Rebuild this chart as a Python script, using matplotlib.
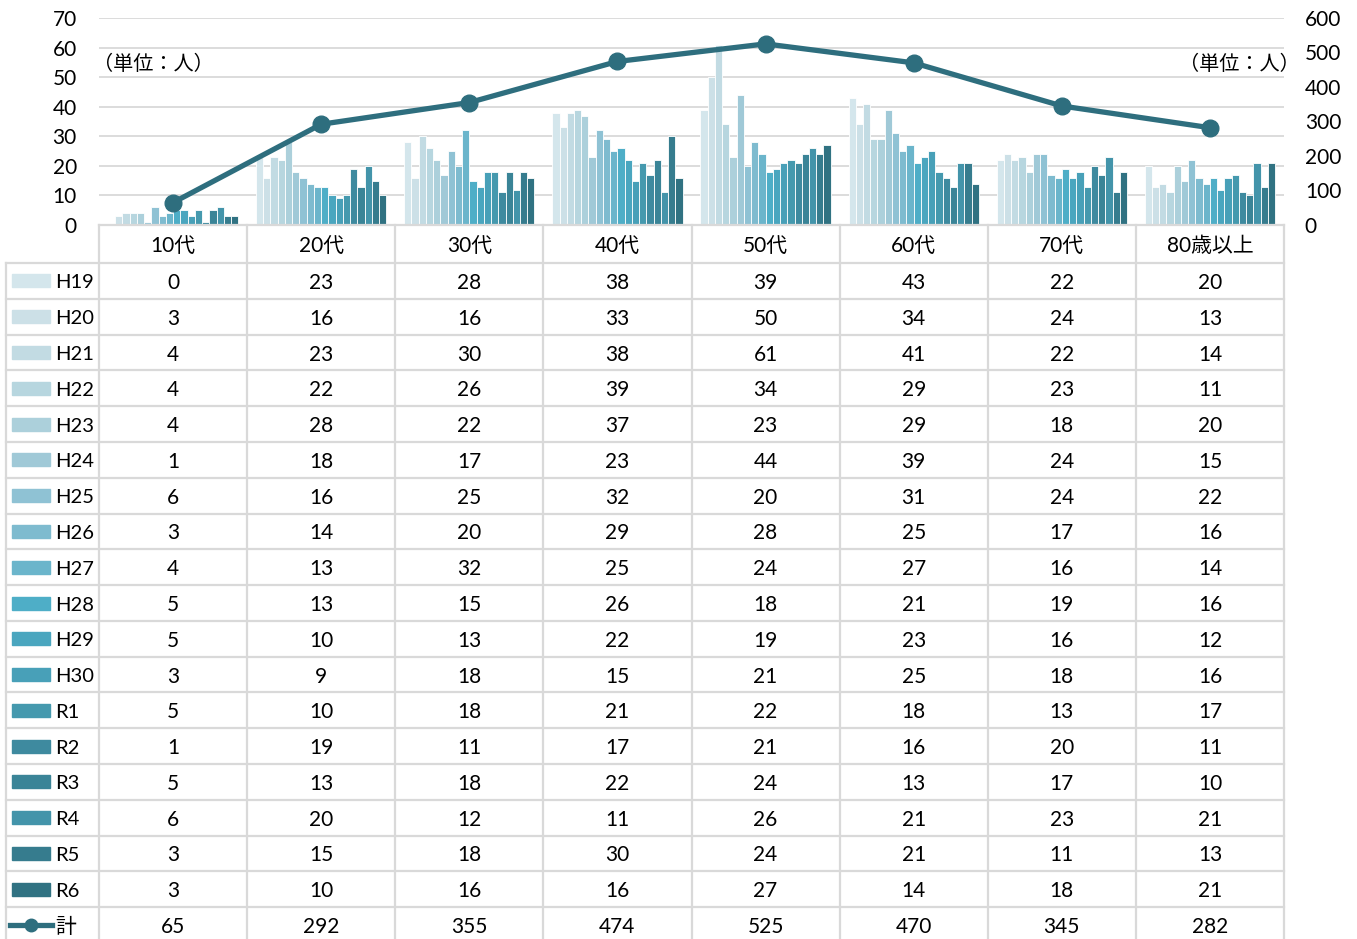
import matplotlib.pyplot as plt
import numpy as np
from matplotlib.patches import Rectangle

plt.rcParams['font.family'] = ['Lato', 'Noto Sans CJK JP', 'DejaVu Sans']

ages = ['10代', '20代', '30代', '40代', '50代', '60代', '70代', '80歳以上']
years = ['H19', 'H20', 'H21', 'H22', 'H23', 'H24', 'H25', 'H26', 'H27',
         'H28', 'H29', 'H30', 'R1', 'R2', 'R3', 'R4', 'R5', 'R6']
# one row per year, one column per age group
counts = [
    [0, 23, 28, 38, 39, 43, 22, 20],
    [3, 16, 16, 33, 50, 34, 24, 13],
    [4, 23, 30, 38, 61, 41, 22, 14],
    [4, 22, 26, 39, 34, 29, 23, 11],
    [4, 28, 22, 37, 23, 29, 18, 20],
    [1, 18, 17, 23, 44, 39, 24, 15],
    [6, 16, 25, 32, 20, 31, 24, 22],
    [3, 14, 20, 29, 28, 25, 17, 16],
    [4, 13, 32, 25, 24, 27, 16, 14],
    [5, 13, 15, 26, 18, 21, 19, 16],
    [5, 10, 13, 22, 19, 23, 16, 12],
    [3, 9, 18, 15, 21, 25, 18, 16],
    [5, 10, 18, 21, 22, 18, 13, 17],
    [1, 19, 11, 17, 21, 16, 20, 11],
    [5, 13, 18, 22, 24, 13, 17, 10],
    [6, 20, 12, 11, 26, 21, 23, 21],
    [3, 15, 18, 30, 24, 21, 11, 13],
    [3, 10, 16, 16, 27, 14, 18, 21],
]
totals = [65, 292, 355, 474, 525, 470, 345, 282]

colors = ['#d4e6ec', '#cce0e7', '#c2dbe3', '#b7d6df', '#acd0db', '#a0c9d7',
          '#8fc2d4', '#7ebbcf', '#6bb5cb', '#4eaec7', '#4aa6bf', '#48a0b8',
          '#4599ae', '#3e8a9f', '#3a8497', '#4394aa', '#367c8e', '#307282']
line_color = '#2e6e7e'
grid_color = '#d9d9d9'
fs = 15

W, H = 1357, 939
fig = plt.figure(figsize=(W / 100, H / 100), dpi=100)

# chart area
x0, x1, ytop, ybot = 99, 1284, 18, 225
ax = fig.add_axes([x0 / W, 1 - ybot / H, (x1 - x0) / W, (ybot - ytop) / H])
n = len(years)
group = 0.88
bw = group / n
x = np.arange(len(ages))
for i in range(n):
    ax.bar(x - group / 2 + bw * (i + 0.5), counts[i], width=bw,
           color=colors[i], edgecolor='white', linewidth=0.6, zorder=2)
ax.set_xlim(-0.5, len(ages) - 0.5)
ax.set_ylim(0, 70)
ax.set_yticks(range(0, 71, 10))
ax.yaxis.grid(True, color=grid_color, linewidth=1.3, zorder=0)
ax.set_axisbelow(True)
ax.set_xticks([])
for s in ax.spines.values():
    s.set_visible(False)
ax.tick_params(axis='y', length=0, labelsize=fs, pad=16)

ax2 = ax.twinx()
ax2.plot(x, totals, color=line_color, linewidth=3.8, marker='o',
         markersize=12, zorder=5)
ax2.set_ylim(0, 600)
ax2.set_yticks(range(0, 601, 100))
for s in ax2.spines.values():
    s.set_visible(False)
ax2.tick_params(axis='y', length=0, labelsize=fs, pad=15)

fig.text(93 / W, 1 - 63 / H, '（単位：人）', fontsize=14.5, va='center', ha='left')
fig.text(1300 / W, 1 - 63 / H, '（単位：人）', fontsize=14.5, va='center', ha='right')

# data table underneath, laid out in pixel units
tb = fig.add_axes([0, 0, 1, 1])
tb.set_xlim(0, W)
tb.set_ylim(H, 0)
tb.axis('off')

col_w = (x1 - x0) / len(ages)
head_bot = 263.1
row_h = 35.78
nrows = n + 1
lw = 1.6

# column borders
for j in range(len(ages) + 1):
    tb.plot([x0 + j * col_w] * 2, [ybot, H + 20], color=grid_color, lw=lw)
tb.plot([6, 6], [head_bot, H + 20], color=grid_color, lw=lw)
# row borders
tb.plot([x0, x1], [ybot, ybot], color=grid_color, lw=lw)
for r in range(nrows + 1):
    yy = head_bot + r * row_h
    tb.plot([6, x1], [yy, yy], color=grid_color, lw=lw)

for j, a in enumerate(ages):
    tb.text(x0 + (j + 0.5) * col_w, (ybot + head_bot) / 2 + 2, a,
            fontsize=fs, ha='center', va='center')

for r in range(nrows):
    cy = head_bot + (r + 0.5) * row_h
    ty = cy + 2
    if r < n:
        tb.add_patch(Rectangle((12, cy - 6.5), 38, 13, color=colors[r]))
        tb.text(55, ty, years[r], fontsize=14.5, ha='left', va='center')
        vals = counts[r]
    else:
        tb.plot([10, 52], [cy, cy], color=line_color, lw=3.8)
        tb.plot([31], [cy], color=line_color, marker='o', markersize=9)
        tb.text(55, ty, '計', fontsize=fs, ha='left', va='center')
        vals = totals
    for j, v in enumerate(vals):
        tb.text(x0 + (j + 0.5) * col_w, ty, str(v), fontsize=fs,
                ha='center', va='center')

fig.savefig('out.png', dpi=100)
